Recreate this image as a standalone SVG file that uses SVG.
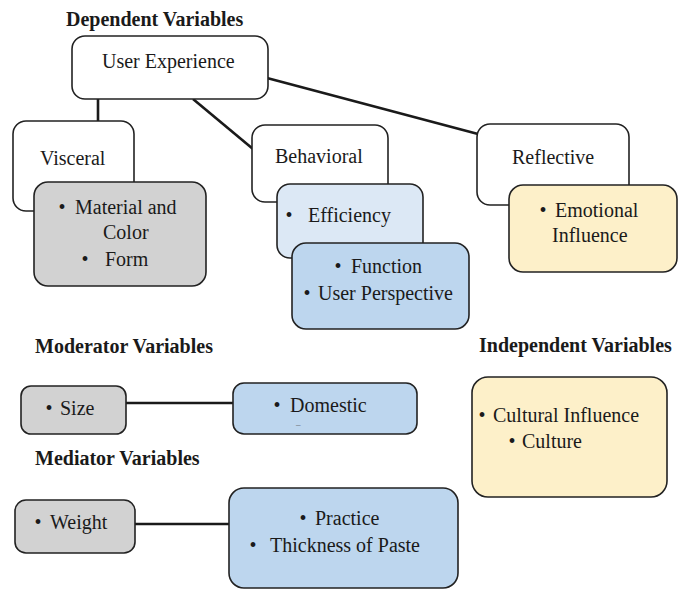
<svg xmlns="http://www.w3.org/2000/svg" width="678" height="589" viewBox="0 0 678 589" font-family="'Liberation Serif', Tinos, 'Times New Roman', 'DejaVu Serif', serif">
<style>
text{font-family:'Liberation Serif',Tinos,'Times New Roman','DejaVu Serif',serif;font-size:20px;fill:#1a1a1a}
.h{font-weight:bold}
.box{stroke:#222;stroke-width:1.6}
.w{fill:#fff}
.g{fill:#d2d2d2}
.lb{fill:#dce8f5}
.b{fill:#bdd6ee}
.y{fill:#fdf0c9}
.c{stroke:#1a1a1a;stroke-width:2.6;fill:none}
</style>
<rect width="678" height="589" fill="#fff"/>
<text class="h" x="66" y="26">Dependent Variables</text>
<text class="h" x="35" y="353">Moderator Variables</text>
<text class="h" x="35" y="465">Mediator Variables</text>
<text class="h" x="479" y="352">Independent Variables</text>
<g id="connectors">
<line class="c" x1="98" y1="99" x2="98" y2="122"/>
<line class="c" x1="193" y1="99" x2="253" y2="149"/>
<line class="c" x1="267" y1="78" x2="478" y2="134"/>
<line class="c" x1="126" y1="403" x2="233" y2="403"/>
<line class="c" x1="135" y1="524" x2="229" y2="524"/>
</g>
<g id="user-experience">
<rect class="box w" x="72" y="36" width="196" height="63" rx="13"/>
<text x="102" y="68">User Experience</text>
</g>
<g id="visceral">
<rect class="box w" x="13" y="121" width="121" height="90" rx="13"/>
<text x="40" y="165">Visceral</text>
</g>
<g id="material">
<rect class="box g" x="34" y="182" width="172" height="104" rx="14"/>
<text><tspan x="58.5" y="214">•</tspan><tspan x="75" y="214">Material and</tspan></text>
<text x="103" y="239">Color</text>
<text><tspan x="81.5" y="266">•</tspan><tspan x="105" y="266">Form</tspan></text>
</g>
<g id="behavioral">
<rect class="box w" x="252" y="125" width="136" height="77" rx="13"/>
<text x="275" y="163">Behavioral</text>
</g>
<g id="efficiency">
<rect class="box lb" x="277" y="184" width="146" height="74" rx="13"/>
<text><tspan x="285.5" y="222">•</tspan><tspan x="308" y="222">Efficiency</tspan></text>
</g>
<g id="function">
<rect class="box b" x="292" y="243" width="177" height="86" rx="14"/>
<text><tspan x="334.5" y="273">•</tspan><tspan x="351" y="273">Function</tspan></text>
<text><tspan x="303.5" y="300">•</tspan><tspan x="318" y="300">User Perspective</tspan></text>
</g>
<g id="reflective">
<rect class="box w" x="477" y="124" width="152" height="81" rx="13"/>
<text x="512" y="164">Reflective</text>
</g>
<g id="emotional">
<rect class="box y" x="509" y="185" width="168" height="87" rx="14"/>
<text><tspan x="539.5" y="217">•</tspan><tspan x="555" y="217">Emotional</tspan></text>
<text x="552" y="242">Influence</text>
</g>
<g id="size">
<rect class="box g" x="21" y="386" width="105" height="48" rx="10"/>
<text><tspan x="45.5" y="415">•</tspan><tspan x="60" y="415">Size</tspan></text>
</g>
<g id="domestic">
<rect class="box b" x="233" y="383" width="184" height="51" rx="11"/>
<text><tspan x="273.5" y="412">•</tspan><tspan x="290" y="412">Domestic</tspan></text>
<text x="296" y="427" style="font-size:9px;fill:#555">–</text>
</g>
<g id="weight">
<rect class="box g" x="15" y="500" width="120" height="53" rx="11"/>
<text><tspan x="34.5" y="529">•</tspan><tspan x="50" y="529">Weight</tspan></text>
</g>
<g id="practice">
<rect class="box b" x="229" y="488" width="229" height="100" rx="15"/>
<text><tspan x="299.5" y="525">•</tspan><tspan x="315" y="525">Practice</tspan></text>
<text><tspan x="249.5" y="552">•</tspan><tspan x="270" y="552">Thickness of Paste</tspan></text>
</g>
<g id="cultural">
<rect class="box y" x="472" y="377" width="195" height="120" rx="16"/>
<text><tspan x="478.5" y="422">•</tspan><tspan x="493" y="422">Cultural Influence</tspan></text>
<text><tspan x="508.5" y="448">•</tspan><tspan x="522" y="448">Culture</tspan></text>
</g>
</svg>
